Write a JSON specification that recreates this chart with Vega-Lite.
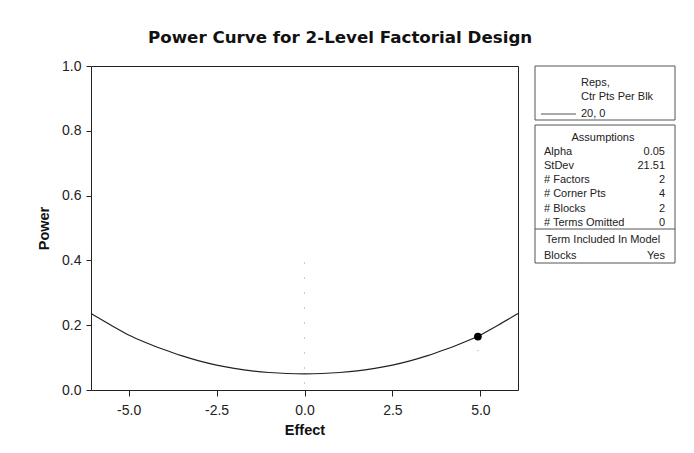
{
  "$schema": "https://vega.github.io/schema/vega-lite/v6.json",
  "padding": {"left": 36, "top": 29, "right": 5, "bottom": 5},
  "background": "white",
  "title": {
    "text": "Power Curve for 2-Level Factorial Design",
    "font": "DejaVu Sans",
    "fontSize": 16.7,
    "fontWeight": "bold",
    "color": "#111",
    "anchor": "start",
    "frame": "group",
    "dx": 57,
    "offset": 12
  },
  "config": {
    "font": "Liberation Sans",
    "axis": {"grid": false, "domain": false, "tickColor": "#222", "labelColor": "#222", "titleColor": "#111"}
  },
  "datasets": {
    "curve": [
      {"effect": -6.07, "power": 0.236},
      {"effect": -5.5, "power": 0.2},
      {"effect": -5.0, "power": 0.17},
      {"effect": -4.5, "power": 0.146},
      {"effect": -4.0, "power": 0.125},
      {"effect": -3.5, "power": 0.106},
      {"effect": -3.0, "power": 0.09},
      {"effect": -2.5, "power": 0.077},
      {"effect": -2.0, "power": 0.067},
      {"effect": -1.5, "power": 0.059},
      {"effect": -1.0, "power": 0.054},
      {"effect": -0.5, "power": 0.051},
      {"effect": 0.0, "power": 0.05},
      {"effect": 0.5, "power": 0.051},
      {"effect": 1.0, "power": 0.054},
      {"effect": 1.5, "power": 0.059},
      {"effect": 2.0, "power": 0.067},
      {"effect": 2.5, "power": 0.077},
      {"effect": 3.0, "power": 0.09},
      {"effect": 3.5, "power": 0.106},
      {"effect": 4.0, "power": 0.125},
      {"effect": 4.5, "power": 0.146},
      {"effect": 5.0, "power": 0.17},
      {"effect": 5.5, "power": 0.2},
      {"effect": 6.07, "power": 0.236}
    ],
    "design": [{"effect": 4.93, "power": 0.165}],
    "refs": [
      {"effect": 0.0, "lo": 0.02, "hi": 0.41},
      {"effect": 4.93, "lo": 0.12, "hi": 0.21}
    ],
    "boxes": [
      {"x0": 0, "x1": 140, "y0": 0, "y1": 54},
      {"x0": 0, "x1": 140, "y0": 59, "y1": 197}
    ],
    "lines": [
      {"x0": 0, "x1": 140, "y": 163},
      {"x0": 6, "x1": 41, "y": 48}
    ],
    "labels": [
      {"t": "Reps,", "x": 46, "y": 17, "a": "left"},
      {"t": "Ctr Pts Per Blk", "x": 46, "y": 31, "a": "left"},
      {"t": "20, 0", "x": 46, "y": 48, "a": "left"},
      {"t": "Assumptions", "x": 68, "y": 72, "a": "center"},
      {"t": "Alpha", "x": 9, "y": 86, "a": "left"},
      {"t": "0.05", "x": 130, "y": 86, "a": "right"},
      {"t": "StDev", "x": 9, "y": 100, "a": "left"},
      {"t": "21.51", "x": 130, "y": 100, "a": "right"},
      {"t": "# Factors", "x": 9, "y": 114, "a": "left"},
      {"t": "2", "x": 130, "y": 114, "a": "right"},
      {"t": "# Corner Pts", "x": 9, "y": 128, "a": "left"},
      {"t": "4", "x": 130, "y": 128, "a": "right"},
      {"t": "# Blocks", "x": 9, "y": 143, "a": "left"},
      {"t": "2", "x": 130, "y": 143, "a": "right"},
      {"t": "# Terms Omitted", "x": 9, "y": 157, "a": "left"},
      {"t": "0", "x": 130, "y": 157, "a": "right"},
      {"t": "Term Included In Model", "x": 68, "y": 174, "a": "center"},
      {"t": "Blocks", "x": 9, "y": 190, "a": "left"},
      {"t": "Yes", "x": 130, "y": 190, "a": "right"}
    ]
  },
  "hconcat": [
    {
      "width": 427,
      "height": 324,
      "view": {"stroke": "#222", "strokeWidth": 1},
      "layer": [
        {
          "data": {"name": "refs"},
          "mark": {"type": "rule", "color": "#999", "strokeDash": [1, 14], "strokeWidth": 1},
          "encoding": {
            "x": {"field": "effect", "type": "quantitative", "scale": {"domain": [-6.07, 6.07], "nice": false, "zero": false}},
            "y": {"field": "lo", "type": "quantitative", "scale": {"domain": [0, 1], "nice": false}},
            "y2": {"field": "hi"}
          }
        },
        {
          "data": {"name": "curve"},
          "mark": {"type": "line", "color": "#222", "strokeWidth": 1.2, "interpolate": "monotone"},
          "encoding": {
            "x": {
              "field": "effect", "type": "quantitative",
              "scale": {"domain": [-6.07, 6.07], "nice": false, "zero": false},
              "axis": {"values": [-5, -2.5, 0, 2.5, 5], "labelExpr": "datum.value < 0 ? '-' + format(-datum.value, '.1f') : format(datum.value, '.1f')", "title": "Effect", "labelFontSize": 14, "tickSize": 6, "labelPadding": 7, "titleFontSize": 14.5, "titleFontWeight": "bold", "titlePadding": 6}
            },
            "y": {
              "field": "power", "type": "quantitative",
              "scale": {"domain": [0, 1], "nice": false},
              "axis": {"values": [0, 0.2, 0.4, 0.6, 0.8, 1.0], "format": ".1f", "title": "Power", "labelFontSize": 14, "tickSize": 5, "labelPadding": 5, "titleFontSize": 14.5, "titleFontWeight": "bold", "titlePadding": 10}
            }
          }
        },
        {
          "data": {"name": "design"},
          "mark": {"type": "point", "filled": true, "color": "#000", "size": 60, "opacity": 1},
          "encoding": {
            "x": {"field": "effect", "type": "quantitative"},
            "y": {"field": "power", "type": "quantitative"}
          }
        }
      ]
    },
    {
      "width": 140,
      "height": 324,
      "view": {"stroke": null},
      "layer": [
        {
          "data": {"name": "boxes"},
          "mark": {"type": "rect", "fill": "white", "stroke": "#555", "strokeWidth": 1},
          "encoding": {
            "x": {"field": "x0", "type": "quantitative", "scale": {"domain": [0, 140], "nice": false, "zero": false}, "axis": null},
            "x2": {"field": "x1"},
            "y": {"field": "y0", "type": "quantitative", "scale": {"domain": [0, 324], "nice": false, "reverse": true}, "axis": null},
            "y2": {"field": "y1"}
          }
        },
        {
          "data": {"name": "lines"},
          "mark": {"type": "rule", "color": "#555", "strokeWidth": 1},
          "encoding": {
            "x": {"field": "x0", "type": "quantitative"},
            "x2": {"field": "x1"},
            "y": {"field": "y", "type": "quantitative"}
          }
        },
        {
          "data": {"name": "labels"},
          "transform": [{"filter": "datum.a === 'left'"}],
          "mark": {"type": "text", "align": "left", "baseline": "middle", "fontSize": 11, "color": "#222"},
          "encoding": {
            "x": {"field": "x", "type": "quantitative"},
            "y": {"field": "y", "type": "quantitative"},
            "text": {"field": "t"}
          }
        },
        {
          "data": {"name": "labels"},
          "transform": [{"filter": "datum.a === 'right'"}],
          "mark": {"type": "text", "align": "right", "baseline": "middle", "fontSize": 11, "color": "#222"},
          "encoding": {
            "x": {"field": "x", "type": "quantitative"},
            "y": {"field": "y", "type": "quantitative"},
            "text": {"field": "t"}
          }
        },
        {
          "data": {"name": "labels"},
          "transform": [{"filter": "datum.a === 'center'"}],
          "mark": {"type": "text", "align": "center", "baseline": "middle", "fontSize": 11, "color": "#222"},
          "encoding": {
            "x": {"field": "x", "type": "quantitative"},
            "y": {"field": "y", "type": "quantitative"},
            "text": {"field": "t"}
          }
        }
      ]
    }
  ],
  "spacing": 17,
  "bounds": "flush",
  "resolve": {"scale": {"x": "independent", "y": "independent"}}
}
